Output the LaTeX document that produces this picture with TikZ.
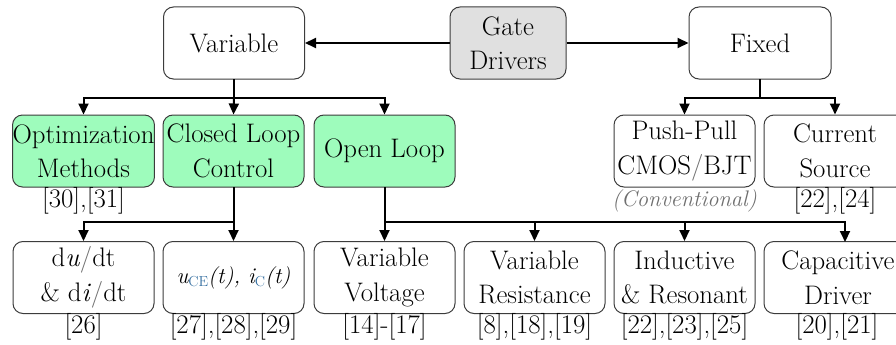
\documentclass[tikz,border=0pt]{standalone}
\usepackage{fontspec}
\usetikzlibrary{arrows.meta}
\definecolor{boxgreen}{RGB}{158,252,188}
\definecolor{boxgray}{RGB}{224,224,224}
\definecolor{edgegray}{RGB}{60,60,60}
\definecolor{subblue}{RGB}{52,110,160}
\definecolor{notegray}{RGB}{110,110,110}
\newcommand{\subtxt}[1]{\raisebox{-3pt}{\textcolor{subblue}{\upshape\fontsize{14.5}{14.5}\selectfont #1}}}
\begin{document}
\begin{tikzpicture}[x=1pt,y=-1pt,
  font=\fontsize{26.8}{34.5}\selectfont,
  blk/.style={draw=edgegray, line width=1pt, rounded corners=10pt, align=center,
    minimum width=141pt, minimum height=72pt, inner sep=0pt, text=black},
  greenblk/.style={blk, fill=boxgreen},
  cite/.style={inner sep=0pt, text=black},
  conn/.style={line width=2pt, line cap=rect},
  arr/.style={line width=2pt, -{Triangle[length=11pt,width=10pt]}}]
\useasboundingbox (0,0) rectangle (896,345);
\clip (0,0) rectangle (896,345);

% top row
\node[blk, fill=boxgray, minimum width=116pt] (gate) at (508,43) {Gate\\Drivers};
\node[blk] (var) at (234,43) {Variable};
\node[blk, minimum width=142pt] (fix) at (760,43) {Fixed};

% second row
\node[greenblk] (opt) at (83.5,151) {Optimization\\Methods};
\node[greenblk] (closed) at (233.5,151) {Closed Loop\\Control};
\node[greenblk] (open) at (384.5,151) {Open Loop};
\node[blk] (push) at (684.5,151) {Push-Pull\\CMOS\textcolor{notegray}{/}BJT};
\node[blk, minimum width=142pt] (cur) at (835,151) {Current\\Source};

\node[cite] (c1) at (83.5,201) {[30],[31]};
\node[cite, text=notegray] (conv) at (684.5,201) {\fontsize{22.5}{26}\selectfont\itshape (Conventional)};
\node[cite] (c2) at (835,201) {[22],[24]};

% third row
\node[blk] (dudt) at (83.5,277.5) {d\textit{u}\textcolor{notegray}{/}dt\\\& d\textit{i}\textcolor{notegray}{/}dt};
\node[blk] (uce) at (233.5,277.5) {\itshape\fontsize{22.5}{28}\selectfont u\subtxt{CE}(t), i\subtxt{C}(t)};
\node[blk] (volt) at (384.5,277.5) {Variable\\Voltage};
\node[blk] (res) at (534.5,277.5) {Variable\\Resistance};
\node[blk] (ind) at (684.5,277.5) {Inductive\\\& Resonant};
\node[blk, minimum width=148pt] (cap) at (838,277.5) {Capacitive\\Driver};

\node[cite] (c3) at (83.5,327) {[26]};
\node[cite] (c4) at (233.5,327) {[27],[28],[29]};
\node[cite] (c5) at (384.5,327) {[14]-[17]};
\node[cite] (c6) at (534.5,327) {[8],[18],[19]};
\node[cite] (c7) at (684.5,327) {[22],[23],[25]};
\node[cite] (c8) at (837,327) {[20],[21]};

% connectors from the gate driver box
\draw[arr] (gate.west) -- (var.east);
\draw[arr] (gate.east) -- (fix.west);

% branch points
\coordinate (vb) at (234,98);
\coordinate (fb) at (760,98);
\coordinate (cb) at (233.5,222);
\coordinate (ob) at (384.5,222);
\coordinate (captop) at (845,242);

% variable branch
\draw[conn] (var.south) -- (vb);
\draw[conn] (vb -| opt.north) -- (vb -| open.north);
\draw[arr] (vb -| opt.north) -- (opt.north);
\draw[arr] (vb) -- (closed.north);
\draw[arr] (vb -| open.north) -- (open.north);

% fixed branch
\draw[conn] (fix.south) -- (fb);
\draw[conn] (fb -| push.north) -- (fb -| cur.north);
\draw[arr] (fb -| push.north) -- (push.north);
\draw[arr] (fb -| cur.north) -- (cur.north);

% closed loop branch
\draw[conn] (closed.south) -- (cb);
\draw[conn] (cb -| dudt.north) -- (cb);
\draw[arr] (cb -| dudt.north) -- (dudt.north);
\draw[arr] (cb) -- (uce.north);

% open loop branch
\draw[conn] (open.south) -- (ob);
\draw[conn] (ob) -- (ob -| captop);
\draw[arr] (ob) -- (volt.north);
\draw[arr] (ob -| res.north) -- (res.north);
\draw[arr] (ob -| ind.north) -- (ind.north);
\draw[arr] (ob -| captop) -- (captop);
\end{tikzpicture}
\end{document}
